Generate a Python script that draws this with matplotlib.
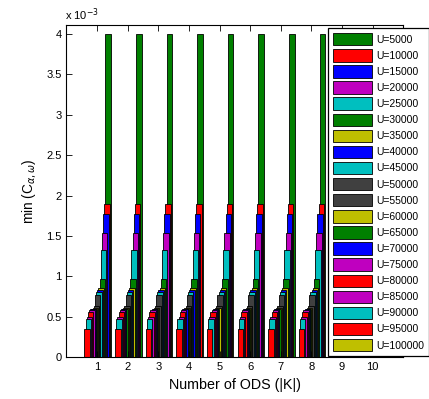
import numpy as np
import matplotlib
matplotlib.use('Agg')
import matplotlib.pyplot as plt

plt.rcParams['font.family'] = ['Liberation Sans', 'DejaVu Sans']

# number of ODS on the x axis
k_values = [1, 2, 3, 4, 5, 6, 7, 8, 9, 10]

# series, in legend order
u_labels = ['U=5000', 'U=10000', 'U=15000', 'U=20000', 'U=25000',
            'U=30000', 'U=35000', 'U=40000', 'U=45000', 'U=50000',
            'U=55000', 'U=60000', 'U=65000', 'U=70000', 'U=75000',
            'U=80000', 'U=85000', 'U=90000', 'U=95000', 'U=100000']

# min C (x 1e-3), same for every |K|
min_c = [4.0, 1.90, 1.77, 1.54, 1.33,
         0.97, 0.85, 0.83, 0.81, 0.77,
         0.63, 0.61, 0.60, 0.59, 0.585,
         0.555, 0.50, 0.47, 0.35, 0.0]

colors = ['#008000', '#ff0000', '#0000ff', '#bf00bf', '#00bfbf',
          '#008000', '#bfbf00', '#0000ff', '#00bfbf', '#404040',
          '#404040', '#bfbf00', '#008000', '#0000ff', '#bf00bf',
          '#ff0000', '#bf00bf', '#00bfbf', '#ff0000', '#bfbf00']

fig = plt.figure(figsize=(4.29, 3.99), dpi=100)
ax = fig.add_axes([0.155, 0.105, 0.785, 0.833])

n = len(u_labels)
step = 0.038
bar_w = 0.18
x = np.array(k_values, dtype=float)
for i in range(n):
    pos = n - 1 - i
    offs = (pos - (n - 1) / 2) * step
    heights = np.full(len(k_values), min_c[i]) * 1e-3
    ax.bar(x + offs, heights, width=bar_w, color=colors[i],
           edgecolor='black', linewidth=0.6, label=u_labels[i])

ax.set_xlim(0, 11)
ax.set_ylim(0, 4.115e-3)
ax.set_xticks(k_values)
yt = np.arange(0, 4.01, 0.5)
ax.set_yticks(yt * 1e-3)
ax.set_yticklabels(['0', '0.5', '1', '1.5', '2', '2.5', '3', '3.5', '4'])
ax.tick_params(direction='in', top=True, right=True, labelsize=8, length=4, width=0.6)
for s in ax.spines.values():
    s.set_linewidth(0.8)

fig.text(0.152, 0.963, r'x 10$^{-3}$', fontsize=8, ha='left', va='center')
ax.set_xlabel('Number of ODS (|K|)', fontsize=10.3, labelpad=4)
ax.set_ylabel(r'min (C$_{\alpha,\omega}$)', fontsize=9.8)
ax.yaxis.set_label_coords(-0.085, 0.5)

leg = fig.legend(loc='upper left', bbox_to_anchor=(328 / 429, 1 - 28 / 399),
                 fontsize=7.5, handlelength=3.77, handleheight=1.455,
                 labelspacing=0.355, handletextpad=0.38, borderpad=0.48,
                 borderaxespad=0, fancybox=False, framealpha=1,
                 edgecolor='black')
leg.get_frame().set_linewidth(0.9)

fig.savefig('out.png', dpi=100)
